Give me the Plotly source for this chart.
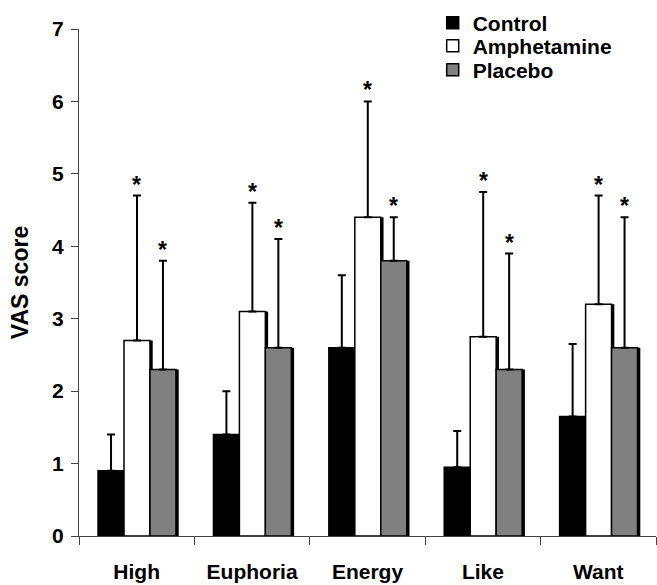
import plotly.graph_objects as go

categories = ["High", "Euphoria", "Energy", "Like", "Want"]
series_names = ["Control", "Amphetamine", "Placebo"]
control_mean = [0.9, 1.4, 2.6, 0.95, 1.65]
control_top = [1.4, 2.0, 3.6, 1.45, 2.65]
amph_mean = [2.7, 3.1, 4.4, 2.75, 3.2]
amph_top = [4.7, 4.6, 6.0, 4.75, 4.7]
placebo_mean = [2.3, 2.6, 3.8, 2.3, 2.6]
placebo_top = [3.8, 4.1, 4.4, 3.9, 4.4]
significant_amph = [True, True, True, True, True]
significant_placebo = [True, True, True, True, True]
y_ticks = [0, 1, 2, 3, 4, 5, 6, 7]

FONT = "Liberation Sans"
means = [control_mean, amph_mean, placebo_mean]
tops = [control_top, amph_top, placebo_top]
sigs = [None, significant_amph, significant_placebo]
fills = ["#000000", "#ffffff", "#808080"]
bar_w = 0.225
offsets = [-0.335, -0.11, 0.115]
shadow_dx = 0.024
legend_ids = ["legend", "legend2", "legend3"]
legend_y = [1.0118, 0.9665, 0.919]

fig = go.Figure()
for i, name in enumerate(series_names):
    m = means[i]
    err = [t - v for t, v in zip(tops[i], m)]
    # drop shadow
    fig.add_trace(go.Bar(
        x=categories, y=m, width=bar_w, offset=offsets[i] + shadow_dx,
        marker=dict(color="#000000", line=dict(width=0)),
        showlegend=False, hoverinfo="skip",
    ))
    fig.add_trace(go.Bar(
        x=categories, y=m, name=name, width=bar_w, offset=offsets[i],
        marker=dict(color=fills[i], line=dict(color="#000000", width=1.5)),
        error_y=dict(type="data", symmetric=False, array=err,
                     arrayminus=[0] * len(err), color="#000000",
                     thickness=2, width=4),
        legend=legend_ids[i], showlegend=True,
    ))

annotations = []
for i in (1, 2):
    for j, cat in enumerate(categories):
        if sigs[i][j]:
            annotations.append(dict(
                x=j + offsets[i] + bar_w / 2, y=tops[i][j], xref="x", yref="y",
                text="*", showarrow=False, yanchor="middle", yshift=11,
                font=dict(family=FONT, size=23, color="#000000", weight="bold"),
            ))

legend_common = dict(
    x=0.613, xanchor="left", yanchor="middle",
    font=dict(family=FONT, size=21, color="#000000", weight="bold"),
    bgcolor="rgba(0,0,0,0)", itemwidth=30,
)

fig.update_layout(
    width=657, height=585,
    margin=dict(l=79, r=1, t=29, b=49),
    paper_bgcolor="white", plot_bgcolor="white",
    barmode="overlay",
    showlegend=True,
    legend=dict(legend_common, y=legend_y[0]),
    legend2=dict(legend_common, y=legend_y[1]),
    legend3=dict(legend_common, y=legend_y[2]),
    annotations=annotations,
    xaxis=dict(
        type="category", categoryorder="array", categoryarray=categories,
        range=[-0.5, 4.5],
        showline=True, linecolor="#444444", linewidth=1,
        ticks="outside", ticklen=8, tickcolor="#444444", tickwidth=1,
        tickson="boundaries", showgrid=False,
        tickfont=dict(family=FONT, size=21, color="#000000", weight="bold"),
        ticklabelstandoff=17,
    ),
    yaxis=dict(
        range=[0, 7], tickvals=y_ticks,
        showline=True, linecolor="#444444", linewidth=1,
        ticks="outside", ticklen=7, tickcolor="#444444", tickwidth=1,
        showgrid=False, zeroline=False,
        tickfont=dict(family=FONT, size=21, color="#000000", weight="bold"),
        ticklabelstandoff=3,
        title=dict(text="VAS score", standoff=17,
                   font=dict(family=FONT, size=23, color="#000000", weight="bold")),
    ),
)

fig.write_html("out.html")
